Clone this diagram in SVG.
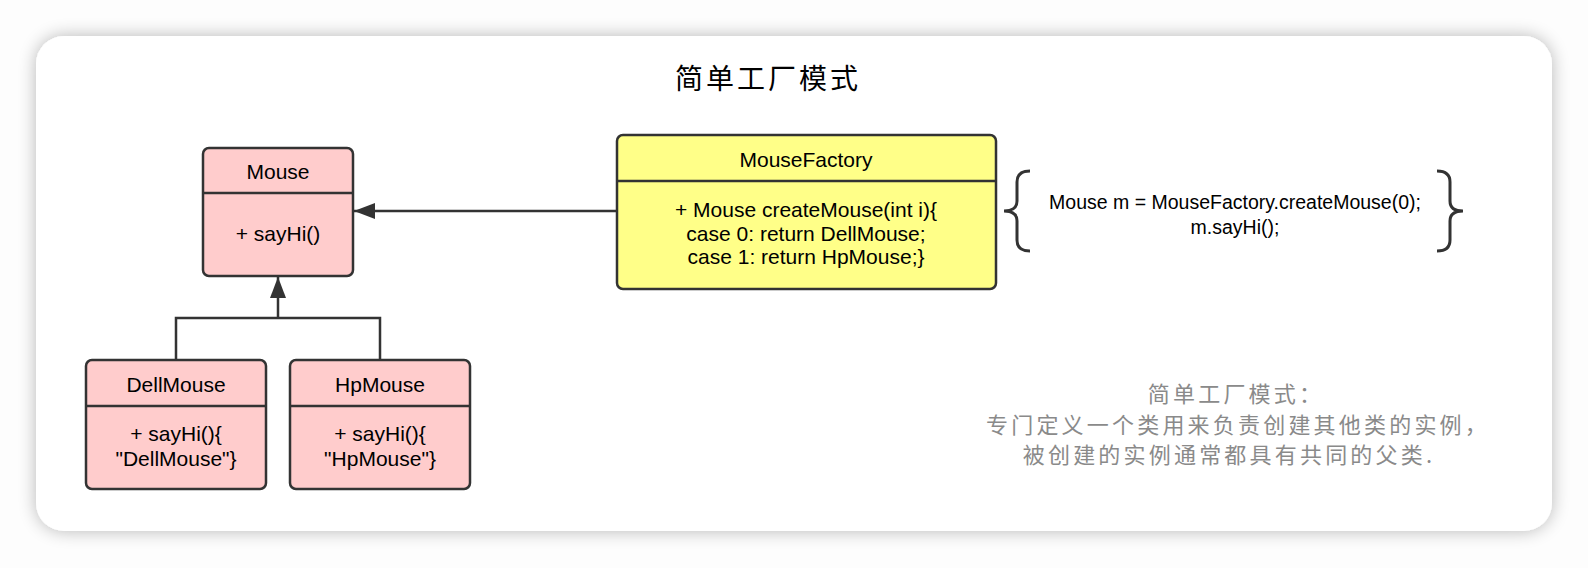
<svg xmlns="http://www.w3.org/2000/svg" width="1588" height="568" viewBox="0 0 1588 568">
<defs>
<filter id="sh" x="-10%" y="-20%" width="120%" height="140%">
<feGaussianBlur in="SourceAlpha" stdDeviation="9"/>
<feComponentTransfer><feFuncA type="linear" slope="0.28"/></feComponentTransfer>
<feMerge><feMergeNode/><feMergeNode in="SourceGraphic"/></feMerge>
</filter>
<marker id="tri" markerUnits="userSpaceOnUse" markerWidth="22" markerHeight="18" refX="21" refY="8" orient="auto">
<path d="M0,0 L21,8 L0,16 Z" fill="#333"/>
</marker>
</defs>
<style>
.box{stroke:#333;stroke-width:2.5}
.pink{fill:#ffcccc}
.yel{fill:#ffff88}
.div{stroke:#333;stroke-width:2.5}
.t{font-family:"Liberation Sans",Arial,sans-serif;font-size:21px;fill:#000;text-anchor:middle;dominant-baseline:central}
.code{font-family:"Liberation Sans",Arial,sans-serif;font-size:19.5px;fill:#000;text-anchor:middle;dominant-baseline:central}
.ln{fill:none;stroke:#333;stroke-width:2.5}
.brace{fill:none;stroke:#333;stroke-width:3}
.note{font-family:"Noto Sans CJK SC","Noto Sans CJK JP",sans-serif;font-size:22px;fill:#8a8a8a;text-anchor:middle;dominant-baseline:central;letter-spacing:3.2px}
.title{font-family:"Noto Sans CJK SC","Noto Sans CJK JP",sans-serif;font-size:28px;fill:#000;text-anchor:middle;dominant-baseline:central;letter-spacing:3px}
</style>
<rect x="0" y="0" width="1588" height="568" fill="#fdfdfd"/>
<rect x="36" y="36" width="1516" height="495" rx="28" ry="28" fill="#fff" filter="url(#sh)"/>
<text class="title" x="768" y="77">简单工厂模式</text>

<g id="connectors">
<line class="ln" x1="617" y1="211" x2="354" y2="211" marker-end="url(#tri)"/>
<polyline class="ln" points="176,360 176,318 380,318 380,360"/>
<line class="ln" x1="278" y1="318" x2="278" y2="277" marker-end="url(#tri)"/>
</g>

<g id="mouse">
<rect class="box pink" x="203" y="148" width="150" height="128" rx="6"/>
<line class="div" x1="203" y1="193" x2="353" y2="193"/>
<text class="t" x="278" y="171">Mouse</text>
<text class="t" x="278" y="233">+ sayHi()</text>
</g>

<g id="dellmouse">
<rect class="box pink" x="86" y="360" width="180" height="129" rx="6"/>
<line class="div" x1="86" y1="406" x2="266" y2="406"/>
<text class="t" x="176" y="384">DellMouse</text>
<text class="t" x="176" y="433">+ sayHi(){</text>
<text class="t" x="176" y="458">"DellMouse"}</text>
</g>

<g id="hpmouse">
<rect class="box pink" x="290" y="360" width="180" height="129" rx="6"/>
<line class="div" x1="290" y1="406" x2="470" y2="406"/>
<text class="t" x="380" y="384">HpMouse</text>
<text class="t" x="380" y="433">+ sayHi(){</text>
<text class="t" x="380" y="458">"HpMouse"}</text>
</g>

<g id="mousefactory">
<rect class="box yel" x="617" y="135" width="379" height="154" rx="6"/>
<line class="div" x1="617" y1="181" x2="996" y2="181"/>
<text class="t" x="806" y="159">MouseFactory</text>
<text class="t" x="806" y="209">+ Mouse createMouse(int i){</text>
<text class="t" x="806" y="233">case 0: return DellMouse;</text>
<text class="t" x="806" y="256">case 1: return HpMouse;}</text>
</g>

<g id="code">
<path class="brace" d="M1030,171 Q1017,171 1017,182 L1017,201 Q1017,211 1004,211 Q1017,211 1017,221 L1017,240 Q1017,251 1030,251"/>
<path class="brace" d="M1437,171 Q1450,171 1450,182 L1450,201 Q1450,211 1463,211 Q1450,211 1450,221 L1450,240 Q1450,251 1437,251"/>
<text class="code" x="1235" y="202">Mouse m = MouseFactory.createMouse(0);</text>
<text class="code" x="1235" y="227">m.sayHi();</text>
</g>

<g id="note">
<text class="note" x="1236" y="392">简单工厂模式：</text>
<text class="note" x="1238" y="423">专门定义一个类用来负责创建其他类的实例，</text>
<text class="note" x="1229" y="453">被创建的实例通常都具有共同的父类.</text>
</g>
</svg>
